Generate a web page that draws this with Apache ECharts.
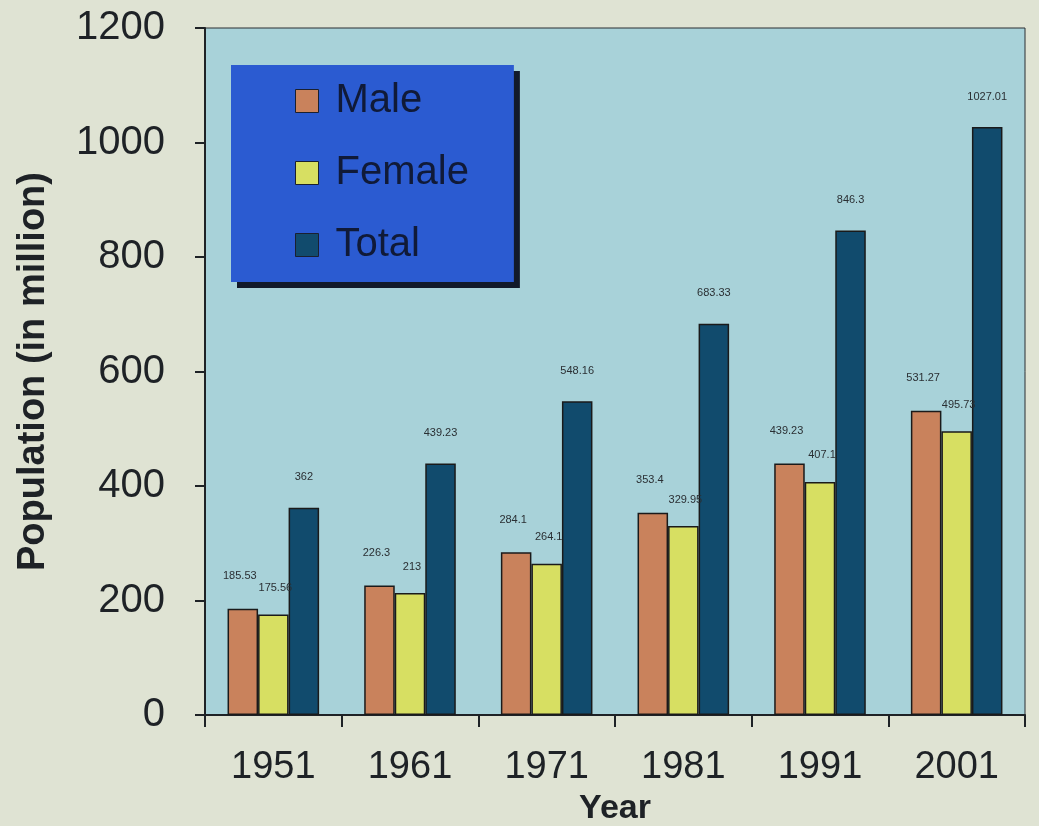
<!DOCTYPE html>
<html>
<head>
<meta charset="utf-8">
<script src="https://cdn.jsdelivr.net/npm/echarts@6/dist/echarts.min.js"></script>
<style>
  html, body { margin: 0; padding: 0; background: #dfe3d3; }
  #chart { width: 1039px; height: 826px; }
</style>
</head>
<body>
<div id="chart"></div>
<script>
// census years and population in million
const years = ['1951', '1961', '1971', '1981', '1991', '2001']
const male = [185.53, 226.3, 284.1, 353.4, 439.23, 531.27]
const female = [175.56, 213, 264.1, 329.95, 407.1, 495.73]
const total = [362, 439.23, 548.16, 683.33, 846.3, 1027.01]

const font = 'Liberation Sans'

const chart = echarts.init(document.getElementById('chart'))

const barLabel = (offset) => ({
  show: true,
  position: 'top',
  offset: offset,
  color: '#2a2f33',
  fontSize: 11,
  fontFamily: font
})

const option = {
  backgroundColor: '#dfe3d3',
  textStyle: { fontFamily: font },
  legend: {
    orient: 'vertical',
    left: 231,
    top: 65,
    data: ['Male', 'Female', 'Total'],
    icon: 'rect',
    itemWidth: 23,
    itemHeight: 23,
    itemGap: 32,
    padding: [16, 45, 17, 64],
    backgroundColor: '#2b5bd1',
    borderWidth: 0,
    shadowColor: '#121a2a',
    shadowBlur: 0,
    shadowOffsetX: 6,
    shadowOffsetY: 6,
    itemStyle: { borderColor: '#1a2030', borderWidth: 1 },
    textStyle: {
      fontSize: 40,
      lineHeight: 40,
      color: '#101a38',
      fontFamily: font,
      padding: [0, 0, 0, 12]
    }
  },
  grid: {
    left: 205,
    right: 14,
    top: 28,
    bottom: 111,
    outerBoundsMode: 'none',
    show: true,
    backgroundColor: '#a8d2d9',
    borderColor: '#2a2f33',
    borderWidth: 1
  },
  xAxis: {
    type: 'category',
    data: years,
    name: 'Year',
    nameLocation: 'middle',
    nameGap: 74,
    nameTextStyle: { fontSize: 34, fontWeight: 'bold', color: '#1e2226' },
    axisLine: { lineStyle: { color: '#1e2226', width: 2 } },
    axisTick: { show: true, length: 12, lineStyle: { color: '#1e2226', width: 2 } },
    axisLabel: { fontSize: 38, color: '#1e2226', margin: 34 }
  },
  yAxis: {
    type: 'value',
    min: 0,
    max: 1200,
    interval: 200,
    name: 'Population (in million)',
    nameLocation: 'middle',
    nameGap: 152,
    nameTextStyle: { fontSize: 38, fontWeight: 'bold', color: '#1e2226' },
    axisLine: { show: true, lineStyle: { color: '#1e2226', width: 2 } },
    axisTick: { show: true, length: 10, lineStyle: { color: '#1e2226', width: 2 } },
    axisLabel: {
      fontSize: 40,
      color: '#1e2226',
      margin: 40,
      formatter: (v) => String(v)
    },
    splitLine: { show: false }
  },
  series: [
    {
      name: 'Male',
      type: 'bar',
      data: male,
      barGap: '0%',
      barCategoryGap: '33%',
      itemStyle: { color: '#c9825c', borderColor: '#1a1a1a', borderWidth: 1.5 },
      label: barLabel([-3, -22])
    },
    {
      name: 'Female',
      type: 'bar',
      data: female,
      itemStyle: { color: '#d7df62', borderColor: '#1a1a1a', borderWidth: 1.5 },
      label: barLabel([2, -16])
    },
    {
      name: 'Total',
      type: 'bar',
      data: total,
      itemStyle: { color: '#114b6d', borderColor: '#1a1a1a', borderWidth: 1.5 },
      label: barLabel([0, -20])
    }
  ]
}

chart.setOption(option)
</script>
</body>
</html>
